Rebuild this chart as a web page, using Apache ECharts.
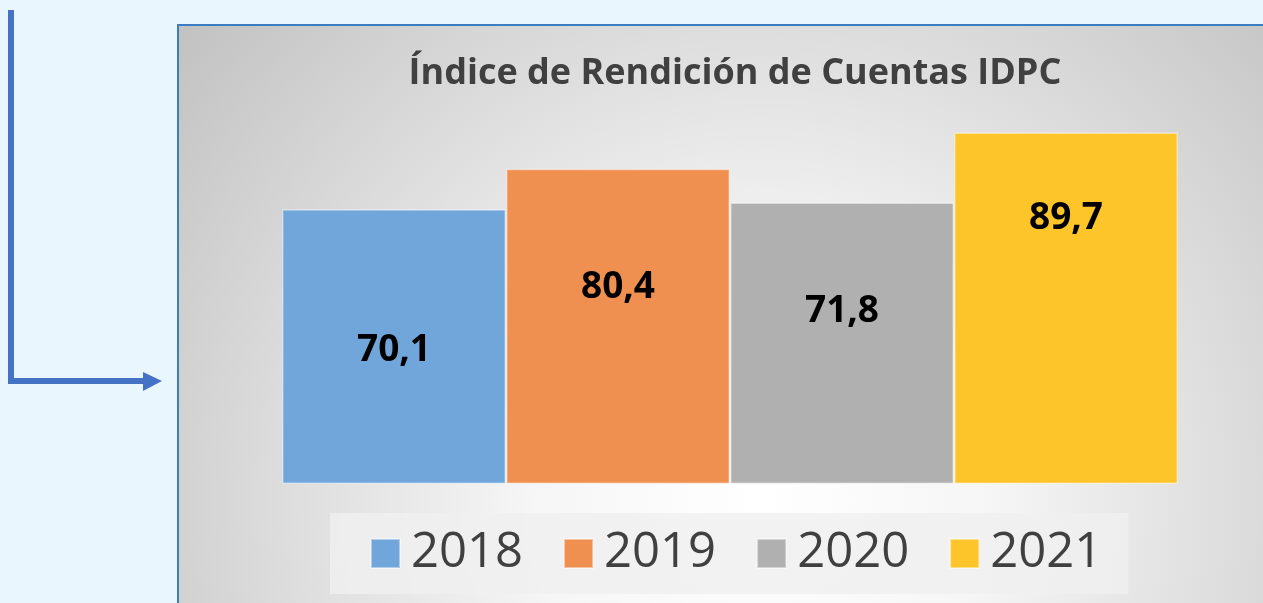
<!DOCTYPE html>
<html>
<head>
<meta charset="utf-8">
<script src="https://cdn.jsdelivr.net/npm/echarts@6/dist/echarts.min.js"></script>
<style>
	html, body { margin: 0; padding: 0; background: #eaf6fe; }
	#chart { width: 1263px; height: 603px; }
</style>
</head>
<body>
<div id="chart"></div>
<script>
var titleText = 'Índice de Rendición de Cuentas IDPC';
var years = ['2018', '2019', '2020', '2021'];
var values = [70.1, 80.4, 71.8, 89.7];
var colors = ['#70a6da', '#ef9050', '#b0b0b0', '#fec52a'];
// distance of each value label below the top of its bar
var labelGaps = [123, 100, 90, 68];

var chart = echarts.init(document.getElementById('chart'));

var series = years.map(function(y, i){
	return {
		name: y,
		type: 'bar',
		barGap: '0%',
		barCategoryGap: '0%',
		data: [values[i]],
		itemStyle: {
			color: colors[i],
			borderColor: 'rgba(255,255,255,0.45)',
			borderWidth: 1.5
		},
		label: {
			show: true,
			position: 'insideTop',
			distance: labelGaps[i],
			formatter: function(p){
				return p.value.toFixed(1).replace('.', ',');
			},
			fontFamily: 'Open Sans',
			fontWeight: 'bold',
			fontSize: 37,
			color: '#000'
		}
	};
});

var option = {
	backgroundColor: '#eaf6fe',
	animation: false,
	graphic: [
		{
			type: 'rect',
			z: -10,
			shape: { x: 178, y: 25, width: 1120, height: 610 },
			style: {
				fill: new echarts.graphic.RadialGradient(0.52, 0.78, 1.22, [
					{ offset: 0, color: '#ffffff' },
					{ offset: 0.3, color: '#f6f6f6' },
					{ offset: 1, color: '#c2c2c2' }
				]),
				stroke: '#3b7cc2',
				lineWidth: 2
			}
		},
		{
			type: 'polyline',
			z: -10,
			shape: { points: [[11, 10], [11, 381], [146, 381]] },
			style: { stroke: '#4472c4', lineWidth: 6, fill: null }
		},
		{
			type: 'polygon',
			z: -10,
			shape: { points: [[143, 372], [162, 381], [143, 391]] },
			style: { fill: '#4472c4' }
		}
	],
	title: {
		text: titleText,
		left: 730,
		textAlign: 'center',
		top: 51,
		textStyle: {
			fontFamily: 'Open Sans',
			fontWeight: 'bold',
			fontSize: 36,
			color: '#404040'
		}
	},
	legend: {
		data: years,
		left: 330,
		top: 513,
		icon: 'rect',
		backgroundColor: 'rgba(239,239,239,0.83)',
		padding: [12, 26, 12, 40],
		itemWidth: 29,
		itemHeight: 29,
		itemGap: 40,
		textStyle: {
			fontFamily: 'Open Sans',
			fontSize: 49,
			lineHeight: 57,
			color: '#404040',
			padding: [0, 0, 0, 6]
		}
	},
	grid: {
		left: 282,
		right: 85,
		top: 92,
		bottom: 119
	},
	xAxis: {
		type: 'category',
		data: [''],
		show: false
	},
	yAxis: {
		type: 'value',
		min: 0,
		max: 100,
		show: false
	},
	series: series
};

chart.setOption(option);
</script>
</body>
</html>
